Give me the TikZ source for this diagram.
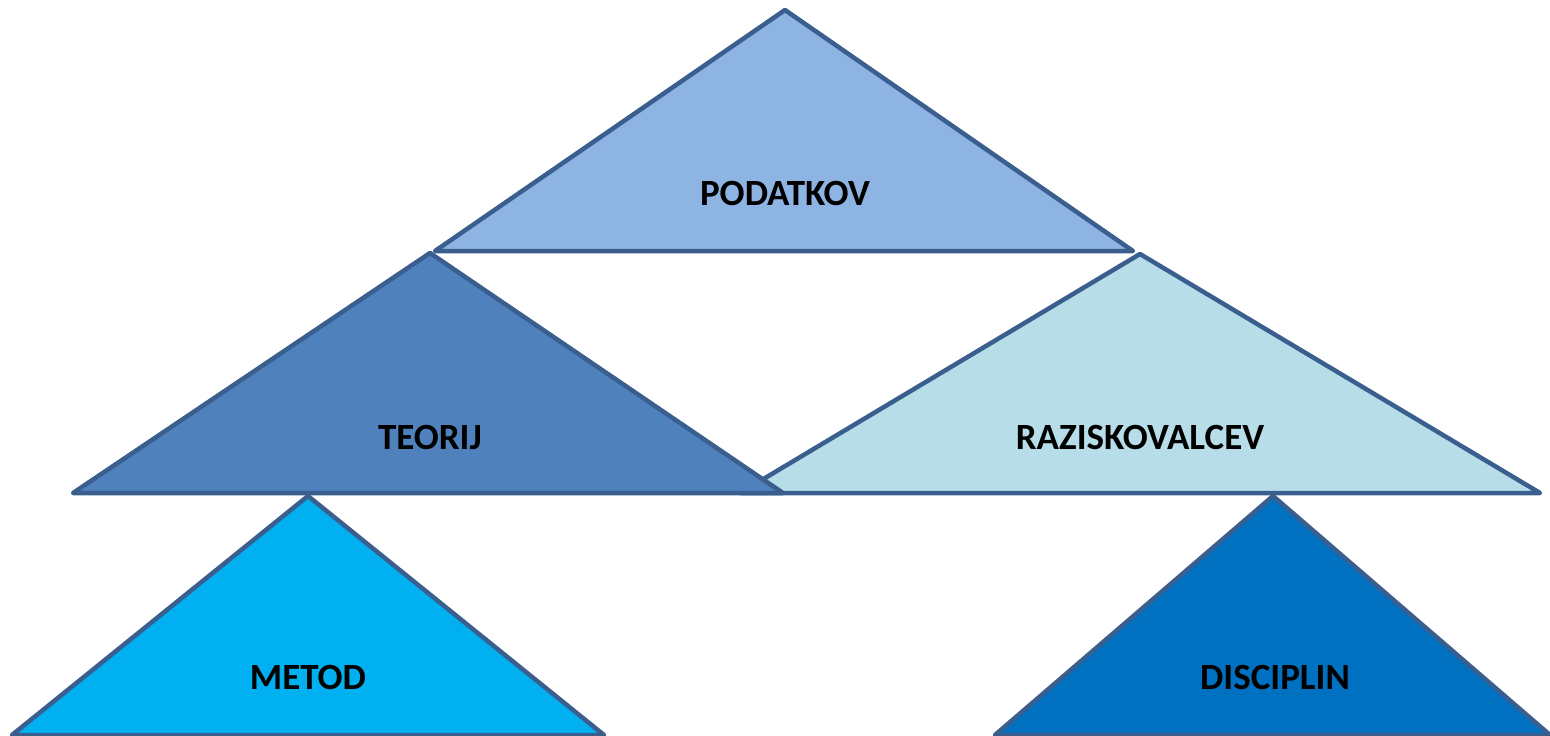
\documentclass[tikz,border=0pt]{standalone}
\usepackage{fontspec}
\setmainfont{Carlito}

\definecolor{triedge}{HTML}{3A5F8E}
\definecolor{podfill}{HTML}{8EB4E3}
\definecolor{teofill}{HTML}{4F81BD}
\definecolor{razfill}{HTML}{B7DEE8}
\definecolor{metfill}{HTML}{00B0F0}
\definecolor{disfill}{HTML}{0070C0}

\tikzset{
    tri/.style={draw=triedge, line width=4.5pt, line join=round},
    lbl/.style={font=\bfseries\fontsize{37}{44}\selectfont, text=black}
}

\begin{document}
\begin{tikzpicture}[x=1pt, y=-1pt]

    \useasboundingbox (0, 0) rectangle (1550, 736);

    %% Top row

    % Podatkov
    \draw[tri, fill=podfill] (785, 10) -- (435, 251) -- (1133, 251) -- cycle;
    \node[lbl] (podatkov) at (785, 193) {PODATKOV};

    %% Middle row

    % Raziskovalcev (behind Teorij)
    \draw[tri, fill=razfill] (1140, 254) -- (740, 493) -- (1540, 493) -- cycle;
    \node[lbl] (raziskovalcev) at (1140, 437) {RAZISKOVALCEV};

    % Teorij
    \draw[tri, fill=teofill] (430, 253) -- (73, 493) -- (783, 493) -- cycle;
    \node[lbl] (teorij) at (430, 437) {TEORIJ};

    %% Bottom row

    % Metod
    \draw[tri, fill=metfill] (308, 496) -- (12, 735) -- (604, 735) -- cycle;
    \node[lbl] (metod) at (308, 677) {METOD};

    % Disciplin
    \draw[tri, fill=disfill] (1273, 496) -- (995, 735) -- (1550, 735) -- cycle;
    \node[lbl] (disciplin) at (1275, 677) {DISCIPLIN};

\end{tikzpicture}
\end{document}
